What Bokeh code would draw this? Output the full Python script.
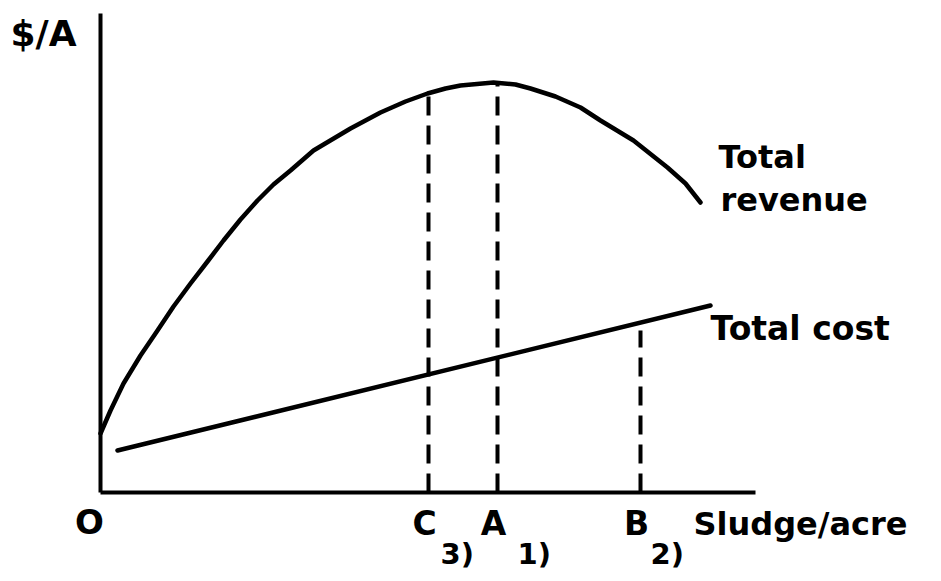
from bokeh.plotting import figure
from bokeh.models import LinearAxis, FixedTicker
from bokeh.core.properties import value
from bokeh.embed import file_html
from bokeh.resources import INLINE

# ---- data (arbitrary units) ----
rev_x = [0, 10, 23, 40, 57, 73, 90, 107, 123, 140, 157, 173, 190, 213, 250, 280, 305,
         327, 345, 360, 393, 415, 430, 455, 480, 500, 533, 567, 585, 600]
rev_y = [59, 82, 109, 137, 162, 186, 209, 231, 252, 273, 292, 308, 322, 342, 364, 380, 391,
         399, 404, 407, 410, 408, 404, 396, 385, 372, 352, 325, 309, 290]

cost_x = [17, 610]
cost_y = [42, 187]

drop_names = ["C", "A", "B"]
drop_x = [328, 397, 540]
drop_top = [398, 410, 162]
drop_notes = ["3)", "1)", "2)"]
note_x = [340, 417, 550]

x_axis_end = 655
y_axis_end = 479

FONT = "DejaVu Sans"

p = figure(width=933, height=573, x_range=(-100, 833), y_range=(-81, 492),
           x_axis_type=None, y_axis_type=None, toolbar_location=None,
           output_backend="svg", min_border=0, outline_line_color=None,
           background_fill_color="white", border_fill_color="white")
p.grid.visible = False

# axes drawn through fixed locations
xa = LinearAxis(fixed_location=0, ticker=FixedTicker(ticks=[]), bounds=(0, x_axis_end),
                axis_line_width=4, axis_line_color="black",
                major_tick_line_color=None, minor_tick_line_color=None,
                major_label_text_font_size="0px")
ya = LinearAxis(fixed_location=0, ticker=FixedTicker(ticks=[]), bounds=(0, y_axis_end),
                axis_line_width=4, axis_line_color="black",
                major_tick_line_color=None, minor_tick_line_color=None,
                major_label_text_font_size="0px")
p.add_layout(xa, "below")
p.add_layout(ya, "left")

# curves
p.line(rev_x, rev_y, line_width=4.5, line_color="black", line_join="round", line_cap="round")
p.line(cost_x, cost_y, line_width=4.5, line_color="black", line_cap="round")

# dashed drop lines
p.segment(x0=drop_x, y0=[0] * 3, x1=drop_x, y1=drop_top, line_width=4,
          line_color="black", line_dash="19 10")

# labels
def txt(x, y, s, size, align="left"):
    p.text(x=[x], y=[y], text=[s], text_font=value(FONT), text_font_style="bold",
           text_font_size=size, text_color="black", text_align=align,
           text_baseline="alphabetic")

txt(-90, 459, "$/A", "36px")
txt(-11, -29, "O", "34px", "center")
for n, x in zip(drop_names, drop_x):
    txt(x - 4, -31, n, "33px", "center")
for nt, x in zip(drop_notes, note_x):
    txt(x, -61, nt, "29px")
txt(593, -31, "Sludge/acre", "32px")
txt(618, 336, "Total", "32px")
txt(620, 293, "revenue", "32px")
txt(610, 164, "Total cost", "33px")

open("out.html", "w").write(file_html(p, INLINE))
